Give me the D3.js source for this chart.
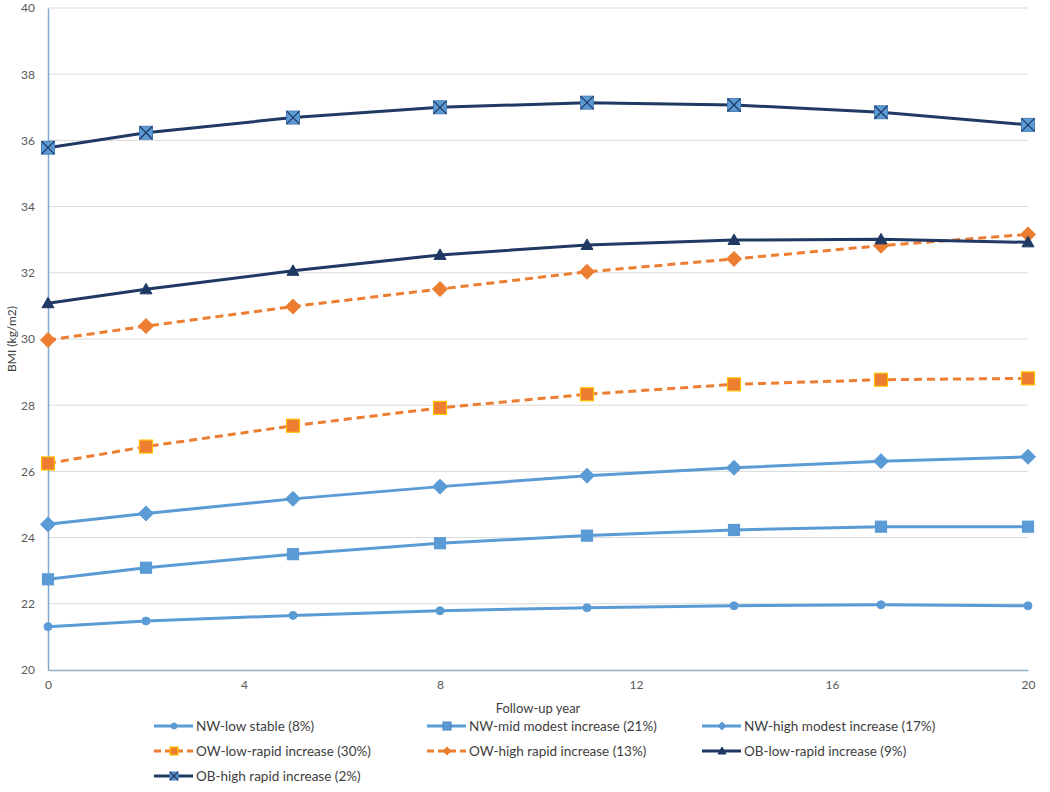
<!DOCTYPE html>
<html>
<head>
<meta charset="utf-8">
<script src="https://cdn.jsdelivr.net/npm/d3@7"></script>
<style>
  body { margin: 0; background: #fff; }
  text { font-family: Lato, "Open Sans", sans-serif; }
</style>
</head>
<body>
<div id="chart"></div>
<script>
// follow-up years
const years = [0, 2, 5, 8, 11, 14, 17, 20];
const xTicks = [0, 4, 8, 12, 16, 20];
const yTicks = [20, 22, 24, 26, 28, 30, 32, 34, 36, 38, 40];

const seriesNames = [
  'NW-low stable (8%)',
  'NW-mid modest increase (21%)',
  'NW-high modest increase (17%)',
  'OW-low-rapid increase (30%)',
  'OW-high rapid increase (13%)',
  'OB-low-rapid increase (9%)',
  'OB-high rapid increase (2%)'
];

const nwLow  = [21.31, 21.48, 21.65, 21.79, 21.88, 21.94, 21.97, 21.94];
const nwMid  = [22.74, 23.09, 23.50, 23.83, 24.06, 24.23, 24.33, 24.33];
const nwHigh = [24.40, 24.73, 25.17, 25.54, 25.87, 26.11, 26.31, 26.44];
const owLow  = [26.24, 26.75, 27.38, 27.92, 28.33, 28.63, 28.77, 28.81];
const owHigh = [29.97, 30.39, 30.98, 31.51, 32.03, 32.42, 32.82, 33.16];
const obLow  = [31.08, 31.50, 32.06, 32.54, 32.84, 32.99, 33.01, 32.92];
const obHigh = [35.78, 36.23, 36.69, 37.00, 37.14, 37.07, 36.85, 36.47];

const W = 1050, H = 792;
const mLeft = 48, mRight = 1028, mTop = 8, mBottom = 670;

const styles = [
  {line: '#5b9bd5', dash: null, mark: 'circle', fill: '#5b9bd5', stroke: '#5b9bd5', size: 4, legMark: 'circle'},
  {line: '#5b9bd5', dash: null, mark: 'square', fill: '#5b9bd5', stroke: '#5b9bd5', size: 11, legMark: 'xsquare'},
  {line: '#5b9bd5', dash: null, mark: 'diamond', fill: '#5b9bd5', stroke: '#5b9bd5', size: 15, legMark: 'diamond'},
  {line: '#ed7d31', dash: '8,5', mark: 'square', fill: '#ed7d31', stroke: '#ffc000', size: 13, legMark: 'square'},
  {line: '#ed7d31', dash: '8,5', mark: 'diamond', fill: '#ed7d31', stroke: '#ed7d31', size: 15, legMark: 'diamond'},
  {line: '#1f3864', dash: null, mark: 'triangle', fill: '#1f3864', stroke: '#1f3864', size: 12, legMark: 'triangle'},
  {line: '#1f3864', dash: null, mark: 'xsquare', fill: '#5b9bd5', stroke: '#1f3864', size: 13, legMark: 'xsquare'}
];

const data = [nwLow, nwMid, nwHigh, owLow, owHigh, obLow, obHigh];

const x = d3.scaleLinear().domain([0, 20]).range([mLeft, mRight]);
const y = d3.scaleLinear().domain([20, 40]).range([mBottom, mTop]);

const svg = d3.select('#chart').append('svg')
  .attr('width', W)
  .attr('height', H);

// gridlines
svg.append('g')
  .selectAll('line')
  .data(yTicks.filter(d => d > 20))
  .enter()
  .append('line')
  .attr('x1', mLeft)
  .attr('x2', mRight)
  .attr('y1', d => y(d))
  .attr('y2', d => y(d))
  .attr('stroke', '#d9d9d9')
  .attr('stroke-width', 1);

const yAxis = d3.axisLeft(y).tickValues(yTicks).tickSize(0).tickPadding(13);
const gy = svg.append('g')
  .attr('transform', `translate(${mLeft},0)`)
  .call(yAxis);
gy.select('.domain').attr('stroke', '#7fa9cf').attr('stroke-width', 1.5);
gy.selectAll('text').attr('fill', '#595959').style('font-size', '12px');

const xAxis = d3.axisBottom(x).tickValues(xTicks).tickSize(0).tickPadding(10);
const gx = svg.append('g')
  .attr('transform', `translate(0,${mBottom})`)
  .call(xAxis);
gx.select('.domain').attr('stroke', '#8fb0c4').attr('stroke-width', 1.5);
gx.selectAll('text').attr('fill', '#595959').style('font-size', '12px');

svg.append('text')
  .attr('transform', 'rotate(-90)')
  .attr('x', -339)
  .attr('y', 16)
  .attr('text-anchor', 'middle')
  .attr('fill', '#404040')
  .style('font-size', '12px')
  .text('BMI (kg/m2)');

svg.append('text')
  .attr('x', 538)
  .attr('y', 713)
  .attr('text-anchor', 'middle')
  .attr('fill', '#404040')
  .style('font-size', '13px')
  .text('Follow-up year');

function drawMarker(g, type, cx, cy, s, fill, stroke) {
  const h = s / 2;
  if (type === 'circle') {
    g.append('circle').attr('cx', cx).attr('cy', cy).attr('r', s)
      .attr('fill', fill).attr('stroke', stroke).attr('stroke-width', 1);
  } else if (type === 'square') {
    g.append('rect').attr('x', cx - h).attr('y', cy - h).attr('width', s).attr('height', s)
      .attr('fill', fill).attr('stroke', stroke).attr('stroke-width', 1.2);
  } else if (type === 'diamond') {
    g.append('path')
      .attr('d', `M${cx},${cy - h}L${cx + h},${cy}L${cx},${cy + h}L${cx - h},${cy}Z`)
      .attr('fill', fill).attr('stroke', stroke).attr('stroke-width', 1);
  } else if (type === 'triangle') {
    g.append('path')
      .attr('d', `M${cx},${cy - h}L${cx + h},${cy + h * 0.75}L${cx - h},${cy + h * 0.75}Z`)
      .attr('fill', fill).attr('stroke', stroke).attr('stroke-width', 1);
  } else if (type === 'xsquare') {
    g.append('rect').attr('x', cx - h).attr('y', cy - h).attr('width', s).attr('height', s)
      .attr('fill', fill).attr('stroke', '#4a7fb8').attr('stroke-width', 1);
    g.append('path')
      .attr('d', `M${cx - h},${cy - h}L${cx + h},${cy + h}M${cx + h},${cy - h}L${cx - h},${cy + h}`)
      .attr('stroke', stroke).attr('stroke-width', 1.2);
  }
}

const line = d3.line()
  .x((d, i) => x(years[i]))
  .y(d => y(d));

data.forEach((vals, k) => {
  const st = styles[k];
  const g = svg.append('g');
  g.append('path')
    .datum(vals)
    .attr('d', line)
    .attr('fill', 'none')
    .attr('stroke', st.line)
    .attr('stroke-width', 3)
    .attr('stroke-dasharray', st.dash);
  vals.forEach((v, i) => {
    drawMarker(g, st.mark, x(years[i]), y(v), st.size, st.fill, st.stroke);
  });
});

// legend
const legCols = [154, 427, 702];
const legRows = [726, 751, 776];
seriesNames.forEach((name, k) => {
  const st = styles[k];
  const lx = legCols[k % 3];
  const ly = legRows[Math.floor(k / 3)];
  const g = svg.append('g');
  g.append('line')
    .attr('x1', lx).attr('x2', lx + 39)
    .attr('y1', ly).attr('y2', ly)
    .attr('stroke', st.line)
    .attr('stroke-width', 3)
    .attr('stroke-dasharray', st.dash ? '7,4' : null);
  const ms = st.legMark === 'circle' ? 3 : 8;
  drawMarker(g, st.legMark, lx + 20, ly, ms, st.fill, st.stroke);
  g.append('text')
    .attr('x', lx + 42)
    .attr('y', ly + 4.5)
    .attr('fill', '#404040')
    .style('font-size', '13.5px')
    .text(name);
});
</script>
</body>
</html>
